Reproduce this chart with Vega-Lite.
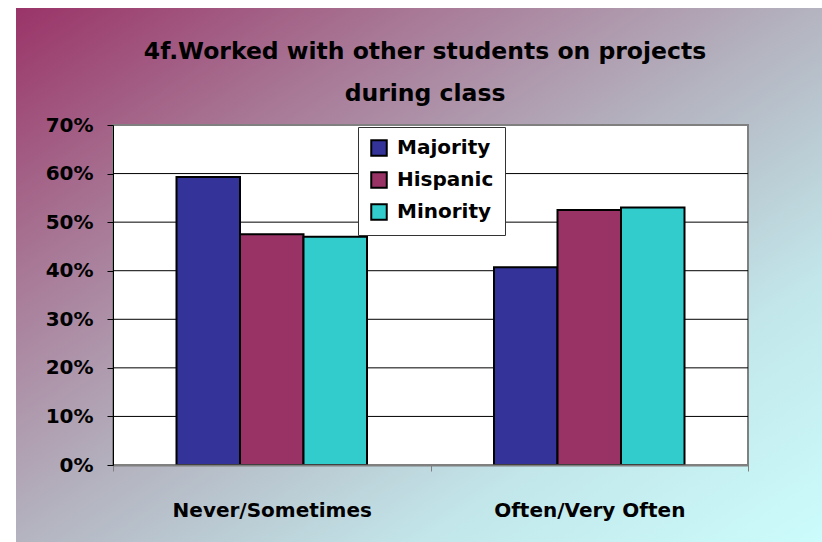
{
  "$schema": "https://vega.github.io/schema/vega-lite/v6.json",
  "autosize": {"type": "none"},
  "width": 806,
  "height": 534,
  "padding": {"left": 16, "top": 8, "right": 0, "bottom": 0},
  "background": "#ffffff",
  "title": {
    "text": ["4f.Worked with other students on projects", "during class"],
    "fontSize": 23.5,
    "font": "DejaVu Sans",
    "fontWeight": "bold",
    "lineHeight": 42,
    "offset": -97,
    "dx": 6,
    "color": "#000000",
    "anchor": "middle"
  },
  "datasets": {
    "survey": [
      {"category": "Never/Sometimes", "group": "Majority", "value": 0.593},
      {"category": "Never/Sometimes", "group": "Hispanic", "value": 0.475},
      {"category": "Never/Sometimes", "group": "Minority", "value": 0.47},
      {"category": "Often/Very Often", "group": "Majority", "value": 0.407},
      {"category": "Often/Very Often", "group": "Hispanic", "value": 0.525},
      {"category": "Often/Very Often", "group": "Minority", "value": 0.53}
    ],
    "gridlines": [
      {"level": 0.1}, {"level": 0.2}, {"level": 0.3}, {"level": 0.4}, {"level": 0.5}, {"level": 0.6}
    ]
  },
  "data": {"name": "survey"},
  "encoding": {
    "x": {
      "field": "category", "type": "nominal", "sort": null,
      "scale": {"range": [97, 732], "paddingInner": 0, "paddingOuter": 0},
      "axis": {
        "title": null, "labelAngle": 0, "tickBand": "extent", "offset": -77, "zindex": 1,
        "labelFont": "DejaVu Sans", "labelFontWeight": "bold", "labelFontSize": 20, "labelColor": "#000000",
        "labelLimit": 0, "labelPadding": 29, "tickSize": 6, "tickColor": "#808080",
        "domainColor": "#808080", "domainWidth": 2, "grid": false
      }
    },
    "y": {
      "type": "quantitative",
      "scale": {"domain": [0, 0.7], "nice": false, "zero": true, "range": [457, 117]},
      "axis": {
        "title": null, "format": ".0%", "values": [0, 0.1, 0.2, 0.3, 0.4, 0.5, 0.6, 0.7],
        "offset": -97, "zindex": 1,
        "labelFont": "DejaVu Sans", "labelFontWeight": "bold", "labelFontSize": 20, "labelColor": "#000000",
        "labelPadding": 14, "tickSize": 6, "tickColor": "#000000", "domainColor": "#000000",
        "grid": false
      }
    }
  },
  "layer": [
    {
      "mark": {"type": "rect", "fill": "#ffffff", "stroke": "#808080", "strokeWidth": 2},
      "encoding": {
        "x": {"datum": "Never/Sometimes", "type": "nominal", "bandPosition": 0},
        "x2": {"datum": "Often/Very Often", "bandPosition": 1},
        "y": {"datum": 0, "type": "quantitative"},
        "y2": {"datum": 0.7}
      }
    },
    {
      "data": {"name": "gridlines"},
      "mark": {"type": "rule", "color": "#000000", "strokeWidth": 1},
      "encoding": {
        "x": {"datum": "Never/Sometimes", "type": "nominal", "bandPosition": 0},
        "x2": {"datum": "Often/Very Often", "bandPosition": 1},
        "y": {"field": "level", "type": "quantitative"}
      }
    },
    {
      "mark": {"type": "bar", "stroke": "#000000", "strokeWidth": 2},
      "encoding": {
        "y": {"field": "value", "type": "quantitative"},
        "xOffset": {
          "field": "group", "type": "nominal", "sort": ["Majority", "Hispanic", "Minority"],
          "scale": {"paddingInner": 0, "paddingOuter": 1}
        },
        "color": {
          "field": "group", "type": "nominal", "sort": ["Majority", "Hispanic", "Minority"],
          "scale": {"domain": ["Majority", "Hispanic", "Minority"], "range": ["#333399", "#993366", "#33cccc"]},
          "legend": {
            "title": null, "orient": "none", "legendX": 342, "legendY": 119,
            "symbolType": "square", "symbolSize": 240, "symbolStrokeColor": "#000000", "symbolStrokeWidth": 2,
            "symbolOpacity": 1,
            "labelFont": "DejaVu Sans", "labelFontWeight": "bold", "labelFontSize": 20, "labelColor": "#000000",
            "rowPadding": 8, "padding": 11, "fillColor": "#ffffff", "strokeColor": "#333333",
            "labelOffset": 8
          }
        }
      }
    }
  ],
  "config": {
    "view": {
      "stroke": null,
      "fill": {"gradient": "linear", "x1": 0, "y1": 0, "x2": 1, "y2": 1, "stops": [
        {"offset": 0, "color": "#9a3468"},
        {"offset": 0.25, "color": "#a87896"},
        {"offset": 0.5, "color": "#b4b4c0"},
        {"offset": 0.75, "color": "#c2e6ea"},
        {"offset": 1, "color": "#ccfcfc"}
      ]}
    }
  }
}
